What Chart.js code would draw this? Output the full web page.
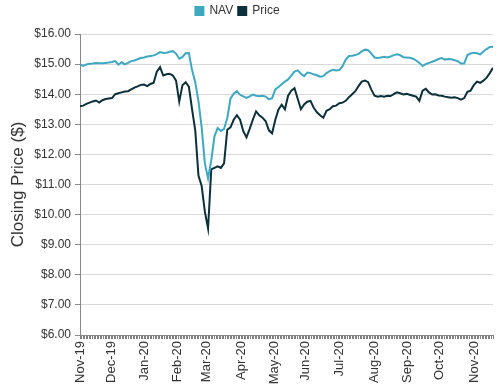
<!DOCTYPE html>
<html>
<head>
<meta charset="utf-8">
<script src="https://cdn.jsdelivr.net/npm/chart.js@4.4.1/dist/chart.umd.min.js"></script>
<style>
  html, body { margin: 0; padding: 0; background: #fff; }
  #wrap { width: 500px; height: 388px; }
</style>
</head>
<body>
<div id="wrap"><canvas id="navChart"></canvas></div>
<script>
// trading-day index where each month starts, and its label
const monthStarts = [0, 20, 41, 62, 81, 103, 124, 144, 166, 188, 209, 230, 252];
const monthLabels = ['Nov-19', 'Dec-19', 'Jan-20', 'Feb-20', 'Mar-20', 'Apr-20', 'May-20',
                     'Jun-20', 'Jul-20', 'Aug-20', 'Sep-20', 'Oct-20', 'Nov-20'];
const lastDay = 264;

// values at evenly spaced dates from first to last day
const navValues = [
    14.99, 14.94, 14.99, 15.01, 15.02, 15.04, 15.03, 15.03, 15.04, 15.05,
    15.07, 15.10, 14.98, 15.06, 14.99, 15.04, 15.10, 15.12, 15.16, 15.20,
    15.22, 15.25, 15.27, 15.29, 15.33, 15.40, 15.37, 15.38, 15.41, 15.43,
    15.35, 15.18, 15.24, 15.36, 15.37, 14.80, 14.40, 13.77, 12.90, 11.70,
    11.20, 11.80, 12.60, 12.88, 12.78, 12.85, 13.20, 13.85, 14.02, 14.10,
    13.98, 13.93, 13.88, 13.93, 13.99, 13.95, 13.93, 13.95, 13.92, 13.83,
    13.87, 14.16, 14.24, 14.33, 14.42, 14.49, 14.62, 14.75, 14.79, 14.68,
    14.60, 14.72, 14.70, 14.66, 14.63, 14.58, 14.60, 14.70, 14.77, 14.81,
    14.79, 14.80, 14.93, 15.15, 15.27, 15.28, 15.30, 15.34, 15.42, 15.48,
    15.46, 15.35, 15.22, 15.20, 15.22, 15.24, 15.22, 15.25, 15.30, 15.33,
    15.30, 15.23, 15.22, 15.21, 15.18, 15.12, 15.04, 14.94, 15.00, 15.04,
    15.08, 15.12, 15.17, 15.20, 15.15, 15.17, 15.16, 15.13, 15.10, 15.02,
    15.02, 15.30, 15.35, 15.38, 15.36, 15.32, 15.42, 15.50, 15.57, 15.58
];

const priceValues = [
    13.60, 13.62, 13.68, 13.72, 13.76, 13.79, 13.72, 13.80, 13.84, 13.86,
    13.87, 14.00, 14.03, 14.06, 14.09, 14.10, 14.16, 14.22, 14.26, 14.31,
    14.32, 14.27, 14.34, 14.38, 14.75, 14.90, 14.62, 14.66, 14.68, 14.62,
    14.45, 13.75, 14.30, 14.40, 14.25, 13.50, 12.80, 11.30, 10.95, 10.10,
    9.54, 11.50, 11.55, 11.60, 11.55, 11.70, 12.82, 12.90, 13.15, 13.30,
    13.15, 12.77, 12.57, 12.85, 13.16, 13.43, 13.30, 13.22, 13.10, 12.80,
    12.70, 13.15, 13.49, 13.65, 13.50, 13.95, 14.12, 14.20, 13.85, 13.50,
    13.66, 13.75, 13.78, 13.55, 13.40, 13.30, 13.22, 13.45, 13.50, 13.60,
    13.62, 13.70, 13.72, 13.78, 13.90, 14.00, 14.10, 14.27, 14.42, 14.45,
    14.40, 14.15, 13.95, 13.92, 13.94, 13.92, 13.95, 13.94, 14.00, 14.06,
    14.03, 13.99, 14.01, 13.98, 13.95, 13.92, 13.78, 14.12, 14.18, 14.06,
    13.99, 14.00, 13.96, 13.95, 13.92, 13.90, 13.88, 13.90, 13.87, 13.82,
    13.87, 14.08, 14.12, 14.30, 14.42, 14.38, 14.45, 14.55, 14.70, 14.88
];

const navColor = '#3ea8c0';
const priceColor = '#0b3039';

function toPoints(values) {
    const step = lastDay / (values.length - 1);
    return values.map(function(v, i) { return { x: i * step, y: v }; });
}

// push the plot down below the legend, and nudge the legend a little left
const legendGap = {
    id: 'legendGap',
    beforeInit: function(chart) {
        const fit = chart.legend.fit;
        chart.legend.fit = function() {
            fit.bind(chart.legend)();
            this.height += 7;
        };
    },
    afterLayout: function(chart) {
        chart.legend.left -= 9;
        chart.legend.right -= 9;
    }
};

const ctx = document.getElementById('navChart').getContext('2d');
const navChart = new Chart(ctx, {
    type: 'line',
    data: {
        datasets: [{
            label: 'NAV',
            data: toPoints(navValues),
            borderColor: navColor,
            backgroundColor: navColor,
            borderWidth: 2,
            pointRadius: 0,
            tension: 0
        }, {
            label: 'Price',
            data: toPoints(priceValues),
            borderColor: priceColor,
            backgroundColor: priceColor,
            borderWidth: 2,
            pointRadius: 0,
            tension: 0
        }]
    },
    options: {
        responsive: true,
        maintainAspectRatio: false,
        animation: false,
        layout: {
            padding: { left: 0, right: 7, top: 0, bottom: 0 }
        },
        scales: {
            x: {
                type: 'linear',
                min: 0,
                max: lastDay,
                ticks: {
                    stepSize: 1,
                    autoSkip: false,
                    minRotation: 90,
                    maxRotation: 90,
                    padding: 2,
                    color: '#333',
                    font: { family: 'Liberation Sans', size: 13 },
                    callback: function(value) {
                        const idx = monthStarts.indexOf(value);
                        return idx >= 0 ? monthLabels[idx] : '';
                    }
                },
                grid: {
                    drawOnChartArea: false,
                    drawTicks: true,
                    tickLength: 4,
                    tickColor: '#808080',
                    color: '#808080'
                },
                border: { color: '#888' },
                afterFit: function(scale) {
                    scale.height = 53;
                    scale.paddingLeft = 0;
                    scale.paddingRight = 0;
                }
            },
            y: {
                min: 6,
                max: 16,
                ticks: {
                    stepSize: 1,
                    padding: 4,
                    color: '#333',
                    font: { family: 'Liberation Sans', size: 12 },
                    callback: function(v) { return '$' + v.toFixed(2); }
                },
                grid: {
                    color: '#d9d9d9',
                    tickLength: 5,
                    tickColor: '#888'
                },
                border: { color: '#888' },
                title: {
                    display: true,
                    text: 'Closing Price ($)',
                    color: '#333',
                    font: { family: 'Liberation Sans', size: 17 },
                    padding: { top: 8, bottom: 0 }
                },
                afterFit: function(scale) { scale.width = 80; }
            }
        },
        plugins: {
            legend: {
                display: true,
                position: 'top',
                labels: {
                    color: '#333',
                    font: { family: 'Liberation Sans', size: 12 },
                    boxWidth: 8,
                    boxHeight: 8,
                    padding: 5
                }
            },
            tooltip: { enabled: false }
        }
    },
    plugins: [legendGap]
});
</script>
</body>
</html>
